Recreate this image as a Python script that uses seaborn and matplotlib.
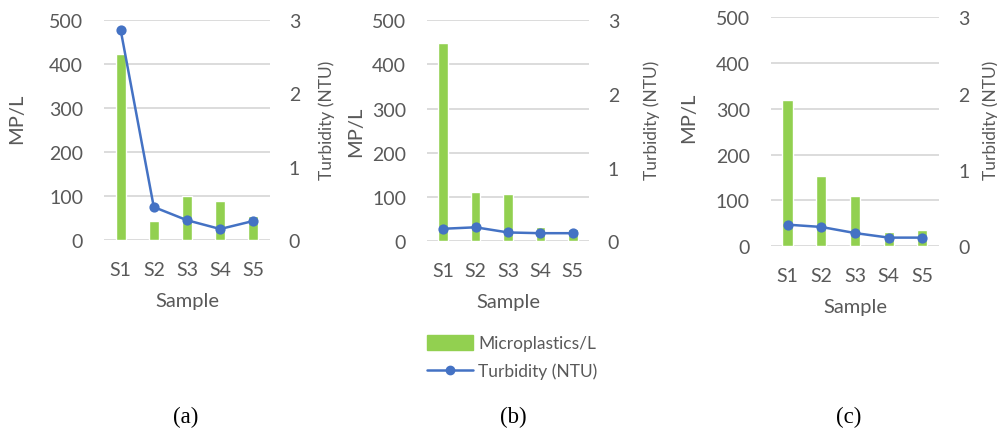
import numpy as np
import seaborn as sns
import matplotlib.pyplot as plt
from matplotlib.patches import Patch
from matplotlib.lines import Line2D

samples = ["S1", "S2", "S3", "S4", "S5"]
mp_a = [423, 44, 100, 88, 55]
mp_b = [447, 111, 108, 32, 28]
mp_c = [319, 154, 109, 31, 36]
turb_a = [2.87, 0.45, 0.27, 0.15, 0.26]
turb_b = [0.17, 0.19, 0.12, 0.11, 0.11]
turb_c = [0.28, 0.25, 0.17, 0.11, 0.11]
panel_labels = ["(a)", "(b)", "(c)"]

GREEN = "#92D050"
BLUE = "#4472C4"
GRID = "#D9D9D9"
TXT = "#595959"

sns.set_style("white")
plt.rcParams["font.family"] = ["Lato", "DejaVu Sans"]

fig = plt.figure(figsize=(9.97, 4.31), dpi=100)
boxes = [[0.1043, 0.4408, 0.1665, 0.5104],
         [0.4283, 0.4378, 0.1625, 0.5135],
         [0.7730, 0.4269, 0.1691, 0.5306]]
# label positions in axes fraction (left label right edge, right label left edge)
left_lab = [(-0.476, 0.557), (-0.389, 0.498), (-0.437, 0.566)]
right_lab = [(1.289, 0.55), (1.333, 0.553), (1.255, 0.555)]
label_x = [0.1866, 0.515, 0.851]

mps = [mp_a, mp_b, mp_c]
turbs = [turb_a, turb_b, turb_c]

for i in range(3):
    ax = fig.add_axes(boxes[i])
    sns.barplot(x=samples, y=mps[i], color=GREEN, width=0.3, ax=ax,
                saturation=1, zorder=2)
    ax.set_ylim(0, 500)
    ax.set_xlim(-0.5, 4.5)
    ax.set_yticks([0, 100, 200, 300, 400, 500])
    ax.yaxis.grid(True, color=GRID, lw=1.3, zorder=0)
    ax.set_axisbelow(True)
    for s in ax.spines.values():
        s.set_visible(False)
    ax.tick_params(axis="y", length=0, labelsize=14, colors=TXT, pad=15)
    ax.tick_params(axis="x", length=0, labelsize=14, colors=TXT, pad=15)
    ax.set_ylabel("MP/L", fontsize=14.5, color=TXT)
    ax.yaxis.set_label_coords(*left_lab[i])
    ax.set_xlabel("Sample", fontsize=14.5, color=TXT, labelpad=10)

    ax2 = ax.twinx()
    sns.pointplot(x=samples, y=turbs[i], ax=ax2, color=BLUE, markers="o",
                  markersize=6, linewidth=1.8, zorder=3)
    ax2.set_ylim(0, 3)
    ax2.set_xlim(-0.5, 4.5)
    ax2.set_yticks([0, 1, 2, 3])
    for s in ax2.spines.values():
        s.set_visible(False)
    ax2.tick_params(length=0, labelsize=14, colors=TXT, pad=13.5)
    ax2.set_ylabel("Turbidity (NTU)", fontsize=12.5, color=TXT)
    ax2.yaxis.set_label_coords(*right_lab[i])

    fig.text(label_x[i], 0.032, panel_labels[i], ha="center", va="center",
             fontsize=16.5, family="Liberation Serif", color="black")

handles = [Patch(color=GREEN, label="Microplastics/L"),
           Line2D([0], [0], color=BLUE, lw=1.8, marker="o", markersize=6,
                  label="Turbidity (NTU)")]
leg = fig.legend(handles=handles, loc="center", bbox_to_anchor=(0.5135, 0.169),
                 frameon=False, fontsize=12.5, handlelength=2.65,
                 handleheight=0.9, labelspacing=0.65, handletextpad=0.3)
for t in leg.get_texts():
    t.set_color(TXT)

fig.savefig("out.png", dpi=100)
